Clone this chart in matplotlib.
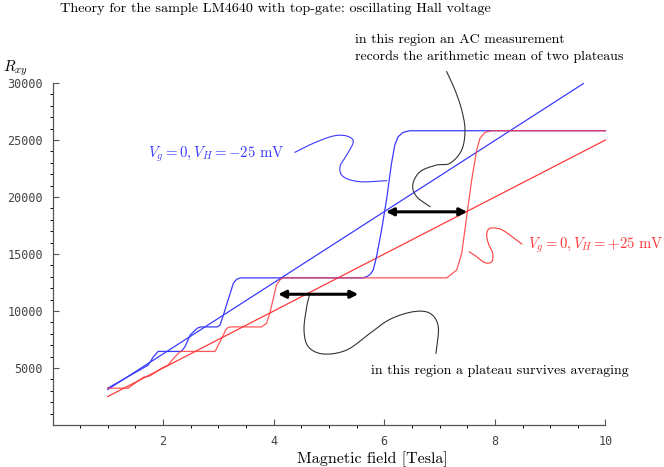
import numpy as np
import matplotlib
matplotlib.use("Agg")
import matplotlib.pyplot as plt
from matplotlib.ticker import FixedLocator

# staircase curves (B in Tesla, R_xy in Ohm)
B_blue = [1.00, 1.73, 1.82, 1.91, 2.33, 2.40, 2.49, 2.62, 2.68, 2.98, 3.03, 3.09,
          3.27, 3.33, 3.40, 5.62, 5.70, 5.76, 5.80, 5.86, 5.95, 6.04, 6.13, 6.19,
          6.25, 6.34, 6.46, 10.0]
R_blue = [3230, 5250, 5950, 6453, 6453, 6900, 7900, 8500, 8604, 8604, 8770, 9650,
          12430, 12780, 12906, 12906, 13050, 13300, 13600, 14770, 17100, 19740, 22950, 24560,
          25290, 25670, 25813, 25813]
B_red = [1.00, 1.37, 1.50, 1.64, 1.76, 1.97, 2.09, 2.20, 2.31, 2.94, 3.00, 3.09,
         3.15, 3.21, 3.78, 3.87, 3.93, 4.05, 4.11, 4.17, 7.13, 7.31, 7.40, 7.49,
         7.58, 7.67, 7.73, 7.82, 7.94, 10.0]
R_red = [3230, 3230, 3700, 4180, 4300, 4970, 5260, 5900, 6453, 6453, 7020, 7900,
         8480, 8604, 8604, 8920, 9800, 12280, 12720, 12906, 12906, 13600, 15060, 18270,
         21490, 24120, 25150, 25670, 25813, 25813]

# classical Hall lines
B_line_blue = [1.0, 9.6]
R_line_blue = [3120, 29950]
B_line_red = [1.0, 10.0]
R_line_red = [2500, 25000]

# double arrows: (B_start, B_end, R)
arrow_upper = (6.03, 7.50, 18700)
arrow_lower = (4.08, 5.53, 11470)

# annotation squiggles (data coords)
sq_blue_B = [4.385, 4.716, 5.078, 5.320, 5.439, 5.320, 5.199, 5.259, 5.560, 6.043]
sq_blue_R = [23921, 24711, 25351, 25351, 24851, 23684, 22658, 21781, 21342, 21430]
sq_red_B = [8.485, 8.273, 8.092, 7.911, 7.852, 7.881, 7.960, 7.942, 7.821, 7.671, 7.537]
sq_red_R = [15877, 16667, 17193, 17255, 16755, 15939, 15062, 14325, 14237, 14763, 15202]
sq_top_B = [7.128, 7.278, 7.400, 7.459, 7.400, 7.188, 6.948, 6.646, 6.514, 6.586, 6.827]
sq_top_R = [30992, 29386, 27632, 25877, 24123, 22956, 22807, 22219, 21053, 20027, 19150]
sq_low_B = [4.656, 4.597, 4.548, 4.626, 4.897, 5.320, 5.741, 6.103, 6.524, 6.826, 6.976, 6.935]
sq_low_R = [11553, 10377, 8333, 6868, 6228, 6579, 8044, 9272, 9939, 9798, 8623, 6290]

x_major = [2, 4, 6, 8, 10]
y_major = [5000, 10000, 15000, 20000, 25000, 30000]

BLUE = "#3a3aff"
RED = "#ff3a3a"


def smooth(xs, ys, n=20):
    # Catmull-Rom through the control points, in pixel-ish scale
    p = np.column_stack([np.asarray(xs) * 55.3, np.asarray(ys) / 87.72])
    p = np.vstack([2 * p[0] - p[1], p, 2 * p[-1] - p[-2]])
    out = []
    t = np.linspace(0, 1, n, endpoint=False)[:, None]
    for i in range(1, len(p) - 2):
        p0, p1, p2, p3 = p[i - 1], p[i], p[i + 1], p[i + 2]
        c = 0.5 * ((2 * p1) + (-p0 + p2) * t + (2 * p0 - 5 * p1 + 4 * p2 - p3) * t ** 2
                   + (-p0 + 3 * p1 - 3 * p2 + p3) * t ** 3)
        out.append(c)
    out.append(p[-2][None, :])
    out = np.vstack(out)
    return out[:, 0] / 55.3, out[:, 1] * 87.72


plt.rcParams["font.family"] = "cmr10"
plt.rcParams["mathtext.fontset"] = "cm"
plt.rcParams["axes.formatter.use_mathtext"] = True

W, H = 664, 467
fig = plt.figure(figsize=(W / 100, H / 100), dpi=100)
ax = fig.add_axes([0, 0, 1, 1])
ax.set_xlim(-52.5 / 55.3, (W - 52.5) / 55.3)
ax.set_ylim((425 - H) * 87.72, 425 * 87.72)
ax.patch.set_alpha(0)

ax.plot(B_line_blue, R_line_blue, color=BLUE, lw=0.9)
ax.plot(B_line_red, R_line_red, color=RED, lw=0.9)
ax.plot(B_blue, R_blue, color=BLUE, lw=0.9, solid_joinstyle="round")
ax.plot(B_red, R_red, color=RED, lw=0.9, alpha=0.85, solid_joinstyle="round")

for xs, ys, col in [(sq_blue_B, sq_blue_R, BLUE), (sq_red_B, sq_red_R, RED),
                    (sq_top_B, sq_top_R, "#333333"), (sq_low_B, sq_low_R, "#333333")]:
    sx, sy = smooth(xs, ys)
    ax.plot(sx, sy, color=col, lw=0.8, clip_on=False)

for b0, b1, r in (arrow_upper, arrow_lower):
    ax.annotate("", xy=(b0, r), xytext=(b1, r),
                arrowprops=dict(arrowstyle="<|-|>", lw=2.2, color="black",
                                mutation_scale=11, shrinkA=0, shrinkB=0))

# Mathematica-style axes crossing at the origin
for s in ("top", "right"):
    ax.spines[s].set_visible(False)
ax.spines["left"].set_position(("data", 0))
ax.spines["bottom"].set_position(("data", 0))
ax.spines["left"].set_bounds(0, 30000)
ax.spines["bottom"].set_bounds(0, 10)
for s in ("left", "bottom"):
    ax.spines[s].set_color("#555555")
    ax.spines[s].set_linewidth(0.9)

ax.xaxis.set_major_locator(FixedLocator(x_major))
ax.xaxis.set_minor_locator(FixedLocator([v for v in np.arange(0.5, 10.01, 0.5) if v % 2]))
ax.yaxis.set_major_locator(FixedLocator(y_major))
ax.yaxis.set_minor_locator(FixedLocator([v for v in range(1000, 30000, 1000) if v % 5000]))
ax.set_xticklabels([str(v) for v in x_major])
ax.set_yticklabels([str(v) for v in y_major])
ax.tick_params(direction="in", color="#555555", labelcolor="#444444", labelsize=8.5)
ax.tick_params(which="major", length=4, width=0.8)
ax.tick_params(which="minor", length=2.5, width=0.7)
ax.tick_params(axis="x", pad=7)
ax.tick_params(axis="y", pad=7)
for lab in ax.get_xticklabels() + ax.get_yticklabels():
    lab.set_family("DejaVu Sans Mono")


def ftext(px, py, s, **kw):
    fig.text(px / W, 1 - py / H, s, va="center", **kw)


ftext(60, 9, "Theory for the sample LM4640 with top-gate: oscillating Hall voltage", fontsize=10.2)
ftext(3, 68, r"$R_{xy}$", fontsize=11)
ftext(355, 40, "in this region an AC measurement", fontsize=10)
ftext(355, 57, "records the arithmetic mean of two plateaus", fontsize=10)
ftext(371, 371, "in this region a plateau survives averaging", fontsize=10)
ftext(372, 459, "Magnetic field [Tesla]", fontsize=11.5, ha="center")
ftext(148, 154, r"$V_g=0, V_H=-25\ \mathrm{mV}$", fontsize=10.7, color=BLUE)
ftext(528, 245, r"$V_g=0, V_H=+25\ \mathrm{mV}$", fontsize=10.6, color=RED)

fig.savefig("out.png", dpi=100)
